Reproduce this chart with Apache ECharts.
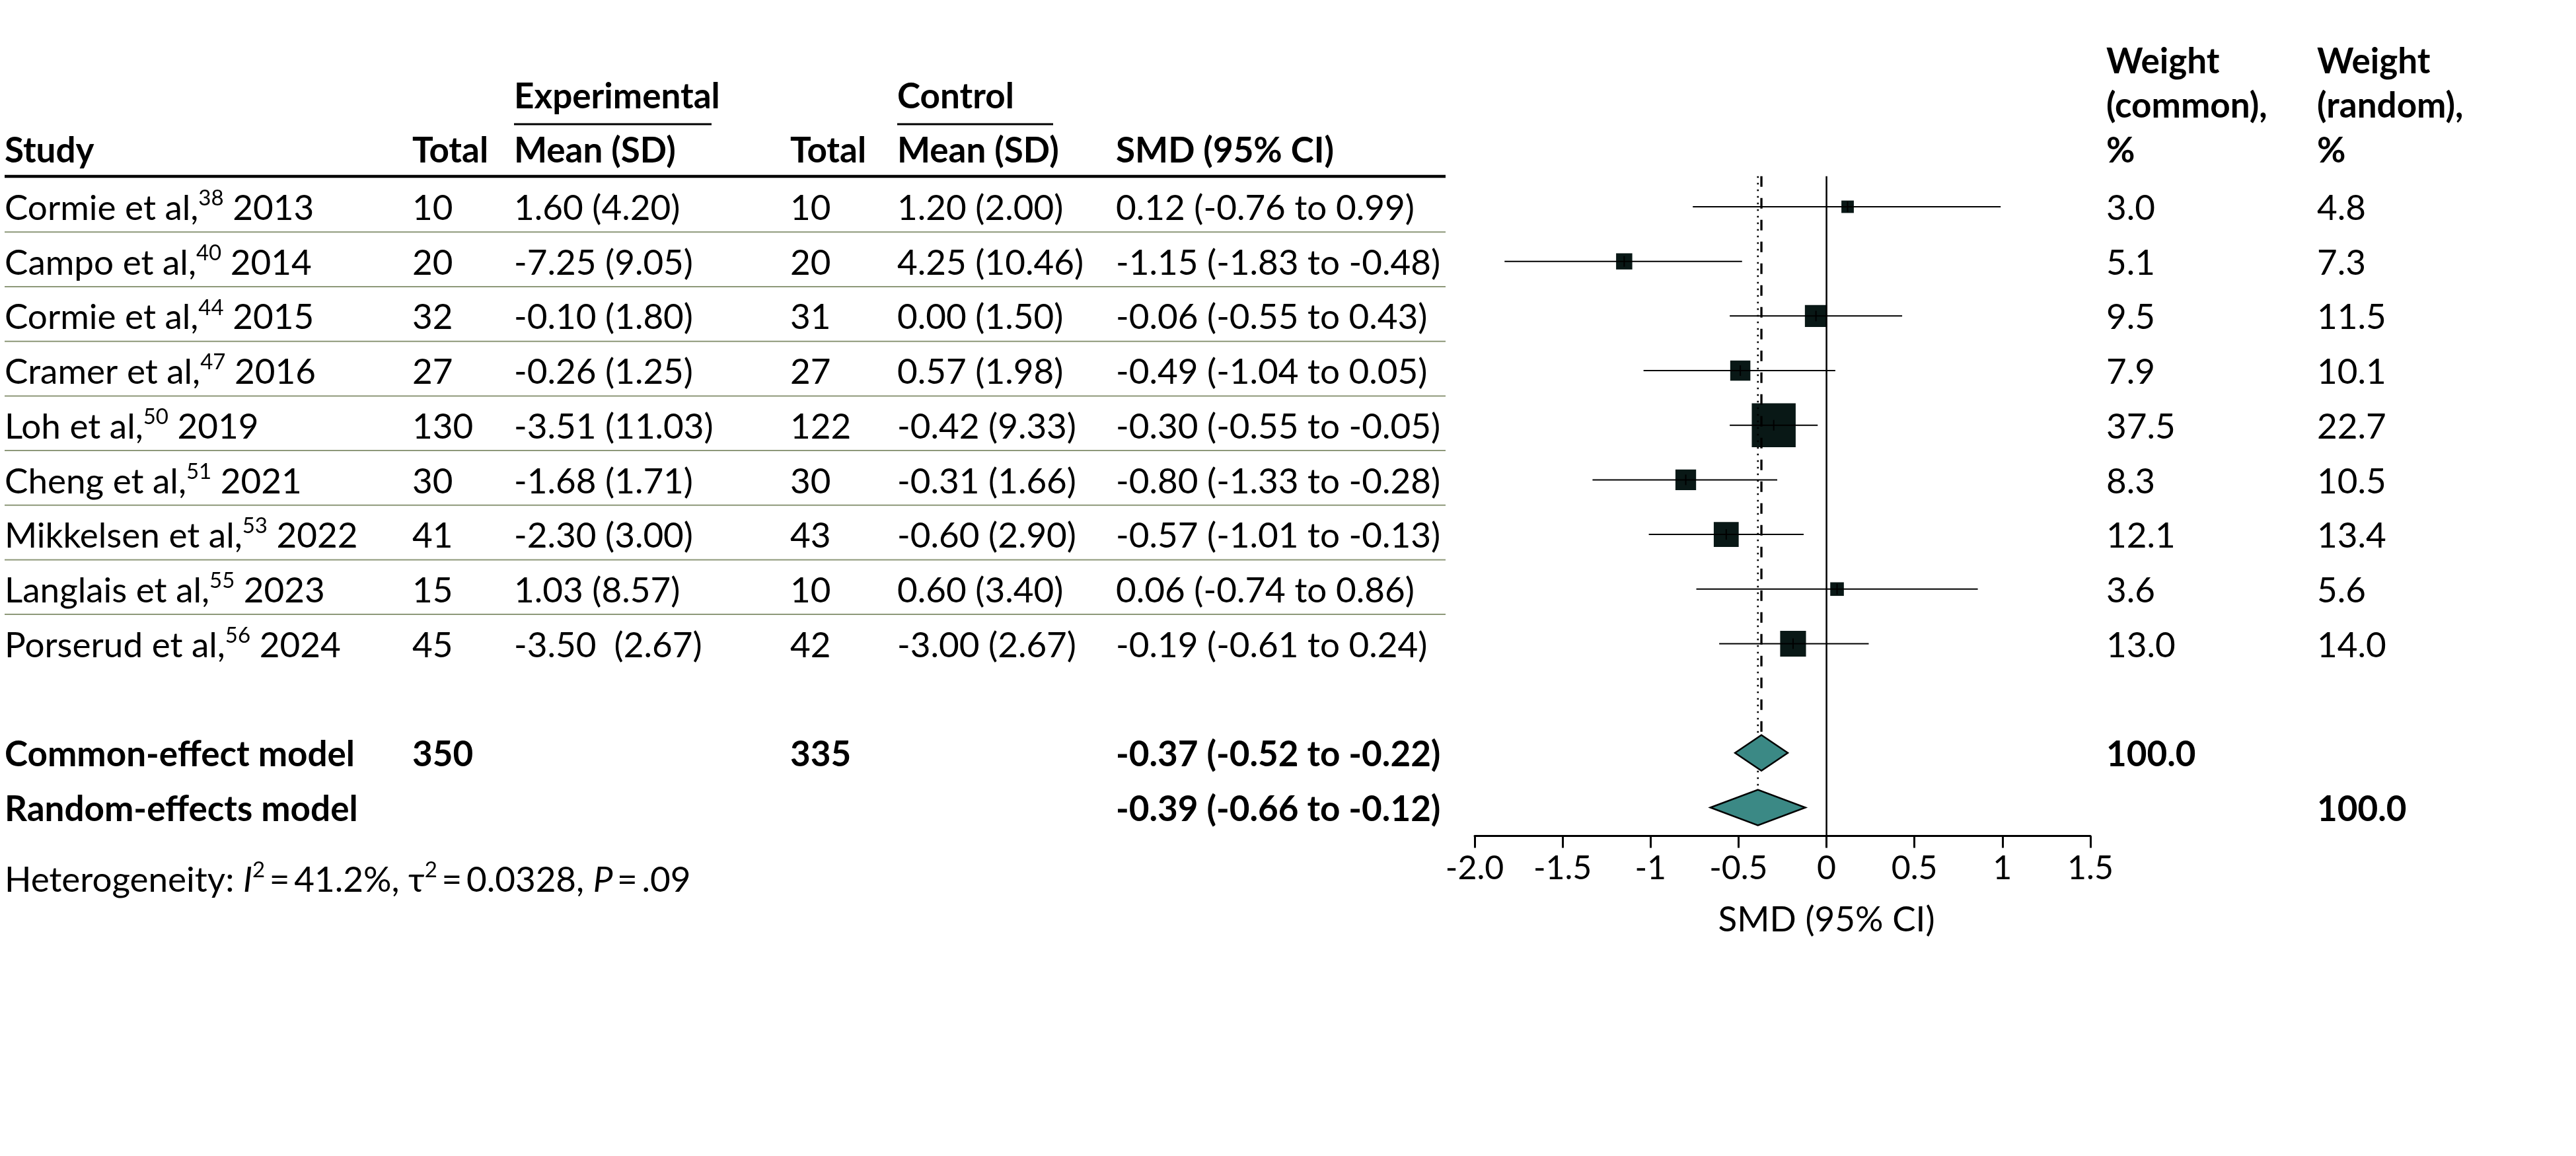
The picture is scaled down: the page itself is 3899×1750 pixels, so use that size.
<!DOCTYPE html>
<html><head><meta charset="utf-8">
<script src="https://cdn.jsdelivr.net/npm/echarts@6/dist/echarts.min.js"></script>
<style>html,body{margin:0;padding:0;background:#fff}#c{width:3899px;height:1750px}</style>
</head><body><div id="c"></div>
<script>
// ---------- data ----------
const studyNames = ["Cormie et al,", "Campo et al,", "Cormie et al,", "Cramer et al,", "Loh et al,", "Cheng et al,", "Mikkelsen et al,", "Langlais et al,", "Porserud et al,"];
const studyRefs = ["38", "40", "44", "47", "50", "51", "53", "55", "56"];
const studyYears = ["2013", "2014", "2015", "2016", "2019", "2021", "2022", "2023", "2024"];
const expTotal = [10, 20, 32, 27, 130, 30, 41, 15, 45];
const expMeanSD = ["1.60 (4.20)", "-7.25 (9.05)", "-0.10 (1.80)", "-0.26 (1.25)", "-3.51 (11.03)", "-1.68 (1.71)", "-2.30 (3.00)", "1.03 (8.57)", "-3.50  (2.67)"];
const ctrlTotal = [10, 20, 31, 27, 122, 30, 43, 10, 42];
const ctrlMeanSD = ["1.20 (2.00)", "4.25 (10.46)", "0.00 (1.50)", "0.57 (1.98)", "-0.42 (9.33)", "-0.31 (1.66)", "-0.60 (2.90)", "0.60 (3.40)", "-3.00 (2.67)"];
const smd = [0.12, -1.15, -0.06, -0.49, -0.30, -0.80, -0.57, 0.06, -0.19];
const smdLower = [-0.76, -1.83, -0.55, -1.04, -0.55, -1.33, -1.01, -0.74, -0.61];
const smdUpper = [0.99, -0.48, 0.43, 0.05, -0.05, -0.28, -0.13, 0.86, 0.24];
const weightCommon = [3.0, 5.1, 9.5, 7.9, 37.5, 8.3, 12.1, 3.6, 13.0];
const weightRandom = [4.8, 7.3, 11.5, 10.1, 22.7, 10.5, 13.4, 5.6, 14.0];

const summaryLabels = ["Common-effect model", "Random-effects model"];
const summaryExpTotal = ["350", ""];
const summaryCtrlTotal = ["335", ""];
const summaryEst = [-0.37, -0.39];
const summaryLower = [-0.52, -0.66];
const summaryUpper = [-0.22, -0.12];
const summaryWeightCommon = ["100.0", ""];
const summaryWeightRandom = ["", "100.0"];

const xTickLabels = ["-2.0", "-1.5", "-1", "-0.5", "0", "0.5", "1", "1.5"];
const X_MIN = -2, X_MAX = 1.5, X_STEP = 0.5;

// ---------- layout / style ----------
const FONT = 'Lato, "DejaVu Sans", sans-serif';
const FS = 53;
const Y_MIN = -0.56, Y_MAX = 11.52;
const SUMMARY_ROW0 = 10;
const COL = {study: 7, expTotal: 624, expMean: 778, ctrlTotal: 1196, ctrlMean: 1358, smd: 1689, wc: 3188, wr: 3507};
const TABLE_RIGHT = 2188;
const SQUARE_K = 10.85;
const DIAMOND_HALF = 27;
const BOX_COLOR = '#091816';
const DIAMOND_COLOR = '#3b8985';
const SEP_COLOR = '#8d9879';

function fmt(v) { return (v < 0 ? '-' : '') + Math.abs(v).toFixed(2); }
function ciText(e, l, u) { return fmt(e) + ' (' + fmt(l) + ' to ' + fmt(u) + ')'; }

function txt(x, y, text, bold) {
  return {type: 'text', x: x, y: y, style: {text: text, fill: '#000', fontSize: FS, fontFamily: FONT, fontWeight: bold ? 'bold' : 'normal', align: 'left', verticalAlign: 'middle'}};
}
const richStyles = {
  n: {fontSize: FS, fontFamily: FONT, fill: '#000', lineHeight: 64, verticalAlign: 'middle'},
  i: {fontSize: FS, fontFamily: FONT, fontStyle: 'italic', fill: '#000', lineHeight: 64, verticalAlign: 'middle'},
  s: {fontSize: 33, fontFamily: FONT, fill: '#000', lineHeight: 36, verticalAlign: 'top'}
};

const chart = echarts.init(document.getElementById('c'));

const studyIdx = studyNames.map((_, i) => [0, i]);
const forestData = smd.map((e, i) => [e, i, smdLower[i], smdUpper[i], weightCommon[i]]);
const summaryData = summaryEst.map((e, k) => [e, SUMMARY_ROW0 + k, summaryLower[k], summaryUpper[k]]);
const sepData = studyNames.slice(0, -1).map((_, i) => [0, i]);

const option = {
  backgroundColor: '#fff',
  animation: false,
  grid: {left: 2232, right: 735, top: 266.7, bottom: 484.5},
  xAxis: {
    type: 'value', min: X_MIN, max: X_MAX, interval: X_STEP,
    axisLine: {show: true, onZero: false, lineStyle: {color: '#000', width: 3}},
    axisTick: {show: true, length: 18, lineStyle: {color: '#000', width: 3}},
    splitLine: {show: false},
    axisLabel: {
      color: '#000', fontSize: 50, fontFamily: FONT, margin: 24,
      formatter: v => xTickLabels[Math.round((v - X_MIN) / X_STEP)]
    }
  },
  yAxis: {type: 'value', inverse: true, min: Y_MIN, max: Y_MAX, show: false},
  graphic: [
    txt(COL.expMean, 147, 'Experimental', true),
    txt(COL.ctrlMean, 147, 'Control', true),
    {type: 'line', shape: {x1: COL.expMean, y1: 188, x2: 1077, y2: 188}, style: {stroke: '#000', lineWidth: 3}},
    {type: 'line', shape: {x1: COL.ctrlMean, y1: 188, x2: 1594, y2: 188}, style: {stroke: '#000', lineWidth: 3}},
    txt(COL.study, 229, 'Study', true),
    txt(COL.expTotal, 229, 'Total', true),
    txt(COL.expMean, 229, 'Mean (SD)', true),
    txt(COL.ctrlTotal, 229, 'Total', true),
    txt(COL.ctrlMean, 229, 'Mean (SD)', true),
    txt(COL.smd, 229, 'SMD (95% CI)', true),
    txt(COL.wc, 94, 'Weight', true),
    txt(COL.wc, 161, '(common),', true),
    txt(COL.wc, 229, '%', true),
    txt(COL.wr, 94, 'Weight', true),
    txt(COL.wr, 161, '(random),', true),
    txt(COL.wr, 229, '%', true),
    {type: 'line', shape: {x1: COL.study, y1: 267, x2: TABLE_RIGHT, y2: 267}, style: {stroke: '#000', lineWidth: 4.5}},
    {type: 'text', x: COL.study, y: 1333, style: {
      text: '{n|Heterogeneity: }{i|I}{s|2}{n|\u2009=\u200941.2%, τ}{s|2}{n|\u2009=\u20090.0328, }{i|P}{n|\u2009=\u2009.09}',
      rich: richStyles, align: 'left', verticalAlign: 'middle'}}
  ],
  series: [
    { // separator lines between study rows
      type: 'custom', clip: false, silent: true, data: sepData,
      renderItem: (params, api) => {
        const i = api.value(1);
        const y = (api.coord([0, i])[1] + api.coord([0, i + 1])[1]) / 2 - 3;
        return {type: 'line', shape: {x1: COL.study, y1: y, x2: TABLE_RIGHT, y2: y}, style: {stroke: SEP_COLOR, lineWidth: 2}};
      }
    },
    { // study table text
      type: 'custom', clip: false, silent: true, data: studyIdx,
      renderItem: (params, api) => {
        const i = params.dataIndex;
        const y = api.coord([0, api.value(1)])[1] + 3;
        return {type: 'group', children: [
          {type: 'text', x: COL.study, y: y, style: {text: '{n|' + studyNames[i] + '}{s|' + studyRefs[i] + '}{n| ' + studyYears[i] + '}', rich: richStyles, align: 'left', verticalAlign: 'middle'}},
          txt(COL.expTotal, y, String(expTotal[i])),
          txt(COL.expMean, y, expMeanSD[i]),
          txt(COL.ctrlTotal, y, String(ctrlTotal[i])),
          txt(COL.ctrlMean, y, ctrlMeanSD[i]),
          txt(COL.smd, y, ciText(smd[i], smdLower[i], smdUpper[i])),
          txt(COL.wc, y, weightCommon[i].toFixed(1)),
          txt(COL.wr, y, weightRandom[i].toFixed(1))
        ]};
      }
    },
    { // summary table text
      type: 'custom', clip: false, silent: true, data: summaryData,
      renderItem: (params, api) => {
        const k = params.dataIndex;
        const y = api.coord([0, api.value(1)])[1] + 3;
        return {type: 'group', children: [
          txt(COL.study, y, summaryLabels[k], true),
          txt(COL.expTotal, y, summaryExpTotal[k], true),
          txt(COL.ctrlTotal, y, summaryCtrlTotal[k], true),
          txt(COL.smd, y, ciText(summaryEst[k], summaryLower[k], summaryUpper[k]), true),
          txt(COL.wc, y, summaryWeightCommon[k], true),
          txt(COL.wr, y, summaryWeightRandom[k], true)
        ]};
      }
    },
    { // study boxes and CIs
      type: 'custom', clip: false, silent: true, data: forestData,
      renderItem: (params, api) => {
        const p = api.coord([api.value(0), api.value(1)]);
        const lo = api.coord([api.value(2), api.value(1)]);
        const hi = api.coord([api.value(3), api.value(1)]);
        const s = SQUARE_K * Math.sqrt(api.value(4));
        return {type: 'group', children: [
          {type: 'rect', shape: {x: p[0] - s / 2, y: p[1] - s / 2, width: s, height: s}, style: {fill: BOX_COLOR}},
          {type: 'line', shape: {x1: lo[0], y1: p[1], x2: hi[0], y2: p[1]}, style: {stroke: '#000', lineWidth: 2}},
          {type: 'line', shape: {x1: p[0], y1: p[1] - 8, x2: p[0], y2: p[1] + 8}, style: {stroke: '#000', lineWidth: 2}}
        ]};
      }
    },
    { // reference lines: zero, common (dashed), random (dotted)
      type: 'custom', clip: false, silent: true,
      data: [[0, 0], [summaryEst[0], 1], [summaryEst[1], 2]],
      renderItem: (params, api) => {
        const k = params.dataIndex;
        const x = api.value(0);
        const top = api.coord([x, Y_MIN]);
        let y2, style;
        if (k === 0) {
          y2 = api.coord([x, Y_MAX])[1];
          style = {stroke: '#000', lineWidth: 2.5};
        } else if (k === 1) {
          y2 = api.coord([x, SUMMARY_ROW0])[1] - DIAMOND_HALF;
          style = {stroke: '#000', lineWidth: 3.3, lineDash: [16, 17]};
        } else {
          y2 = api.coord([x, SUMMARY_ROW0 + 1])[1] - DIAMOND_HALF;
          style = {stroke: '#000', lineWidth: 2.6, lineDash: [2.6, 7.4]};
        }
        return {type: 'line', shape: {x1: top[0], y1: top[1], x2: top[0], y2: y2}, style: style};
      }
    },
    { // summary diamonds
      type: 'custom', clip: false, silent: true, data: summaryData,
      renderItem: (params, api) => {
        const row = api.value(1);
        const c = api.coord([api.value(0), row]);
        const lo = api.coord([api.value(2), row]);
        const hi = api.coord([api.value(3), row]);
        return {type: 'polygon', shape: {points: [[lo[0], c[1]], [c[0], c[1] - DIAMOND_HALF], [hi[0], c[1]], [c[0], c[1] + DIAMOND_HALF]]},
          style: {fill: DIAMOND_COLOR, stroke: '#000', lineWidth: 2.5}};
      }
    },
    { // x-axis title, centred on SMD = 0
      type: 'custom', clip: false, silent: true, data: [[0, Y_MAX]],
      renderItem: (params, api) => {
        const p = api.coord([api.value(0), api.value(1)]);
        return {type: 'text', x: p[0], y: p[1] + 127, style: {text: 'SMD (95% CI)', fill: '#000', fontSize: FS, fontFamily: FONT, align: 'center', verticalAlign: 'middle'}};
      }
    }
  ]
};
chart.setOption(option);
</script>
</body></html>
